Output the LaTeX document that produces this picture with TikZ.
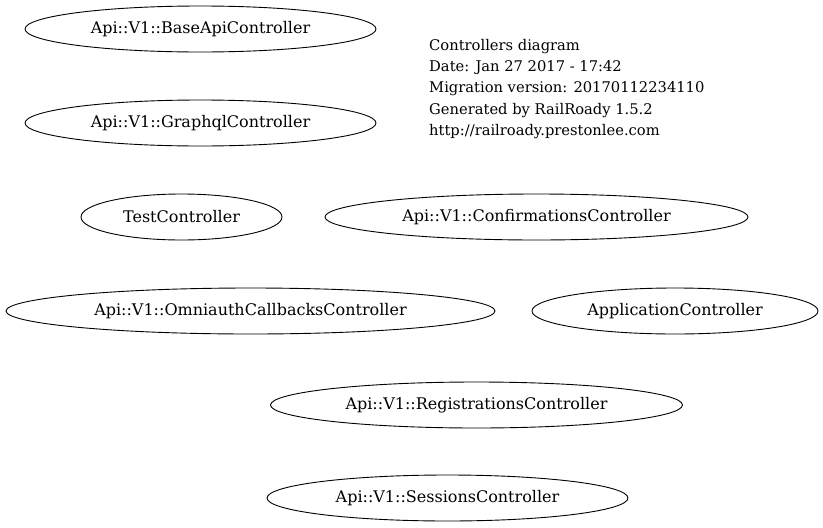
\documentclass[tikz,border=0pt]{standalone}
\usepackage{fontspec}
\setmainfont{DejaVu Serif}
\usetikzlibrary{shapes.geometric}
\begin{document}
\begin{tikzpicture}[x=1pt,y=1pt,
  ctrl/.style={ellipse, draw, line width=0.9pt, inner sep=0pt, minimum height=46pt, font=\fontsize{16}{18}\selectfont},
  info/.style={anchor=north west, align=left, inner sep=0pt, font=\fontsize{14.7}{21.3}\selectfont}]
\useasboundingbox (0,0) rectangle (823,-528);
\node[ctrl, minimum width=351pt] (base) at (200.5,-29) {Api::V1::BaseApiController};
\node[ctrl, minimum width=351pt] (graphql) at (200.5,-123) {Api::V1::GraphqlController};
\node[ctrl, minimum width=201pt] (test) at (181.5,-217) {TestController};
\node[ctrl, minimum width=423pt] (confirm) at (536.5,-217) {Api::V1::ConfirmationsController};
\node[ctrl, minimum width=489pt] (omni) at (250.5,-311) {Api::V1::OmniauthCallbacksController};
\node[ctrl, minimum width=286pt] (app) at (675,-311) {ApplicationController};
\node[ctrl, minimum width=412pt] (reg) at (476.5,-405) {Api::V1::RegistrationsController};
\node[ctrl, minimum width=361pt] (sess) at (447.5,-498) {Api::V1::SessionsController};
\node[info] (legend) at (429,-39) {Controllers diagram\\Date: Jan 27 2017 - 17:42\\Migration version: 20170112234110\\Generated by RailRoady 1.5.2\\http://railroady.prestonlee.com};
\end{tikzpicture}
\end{document}
